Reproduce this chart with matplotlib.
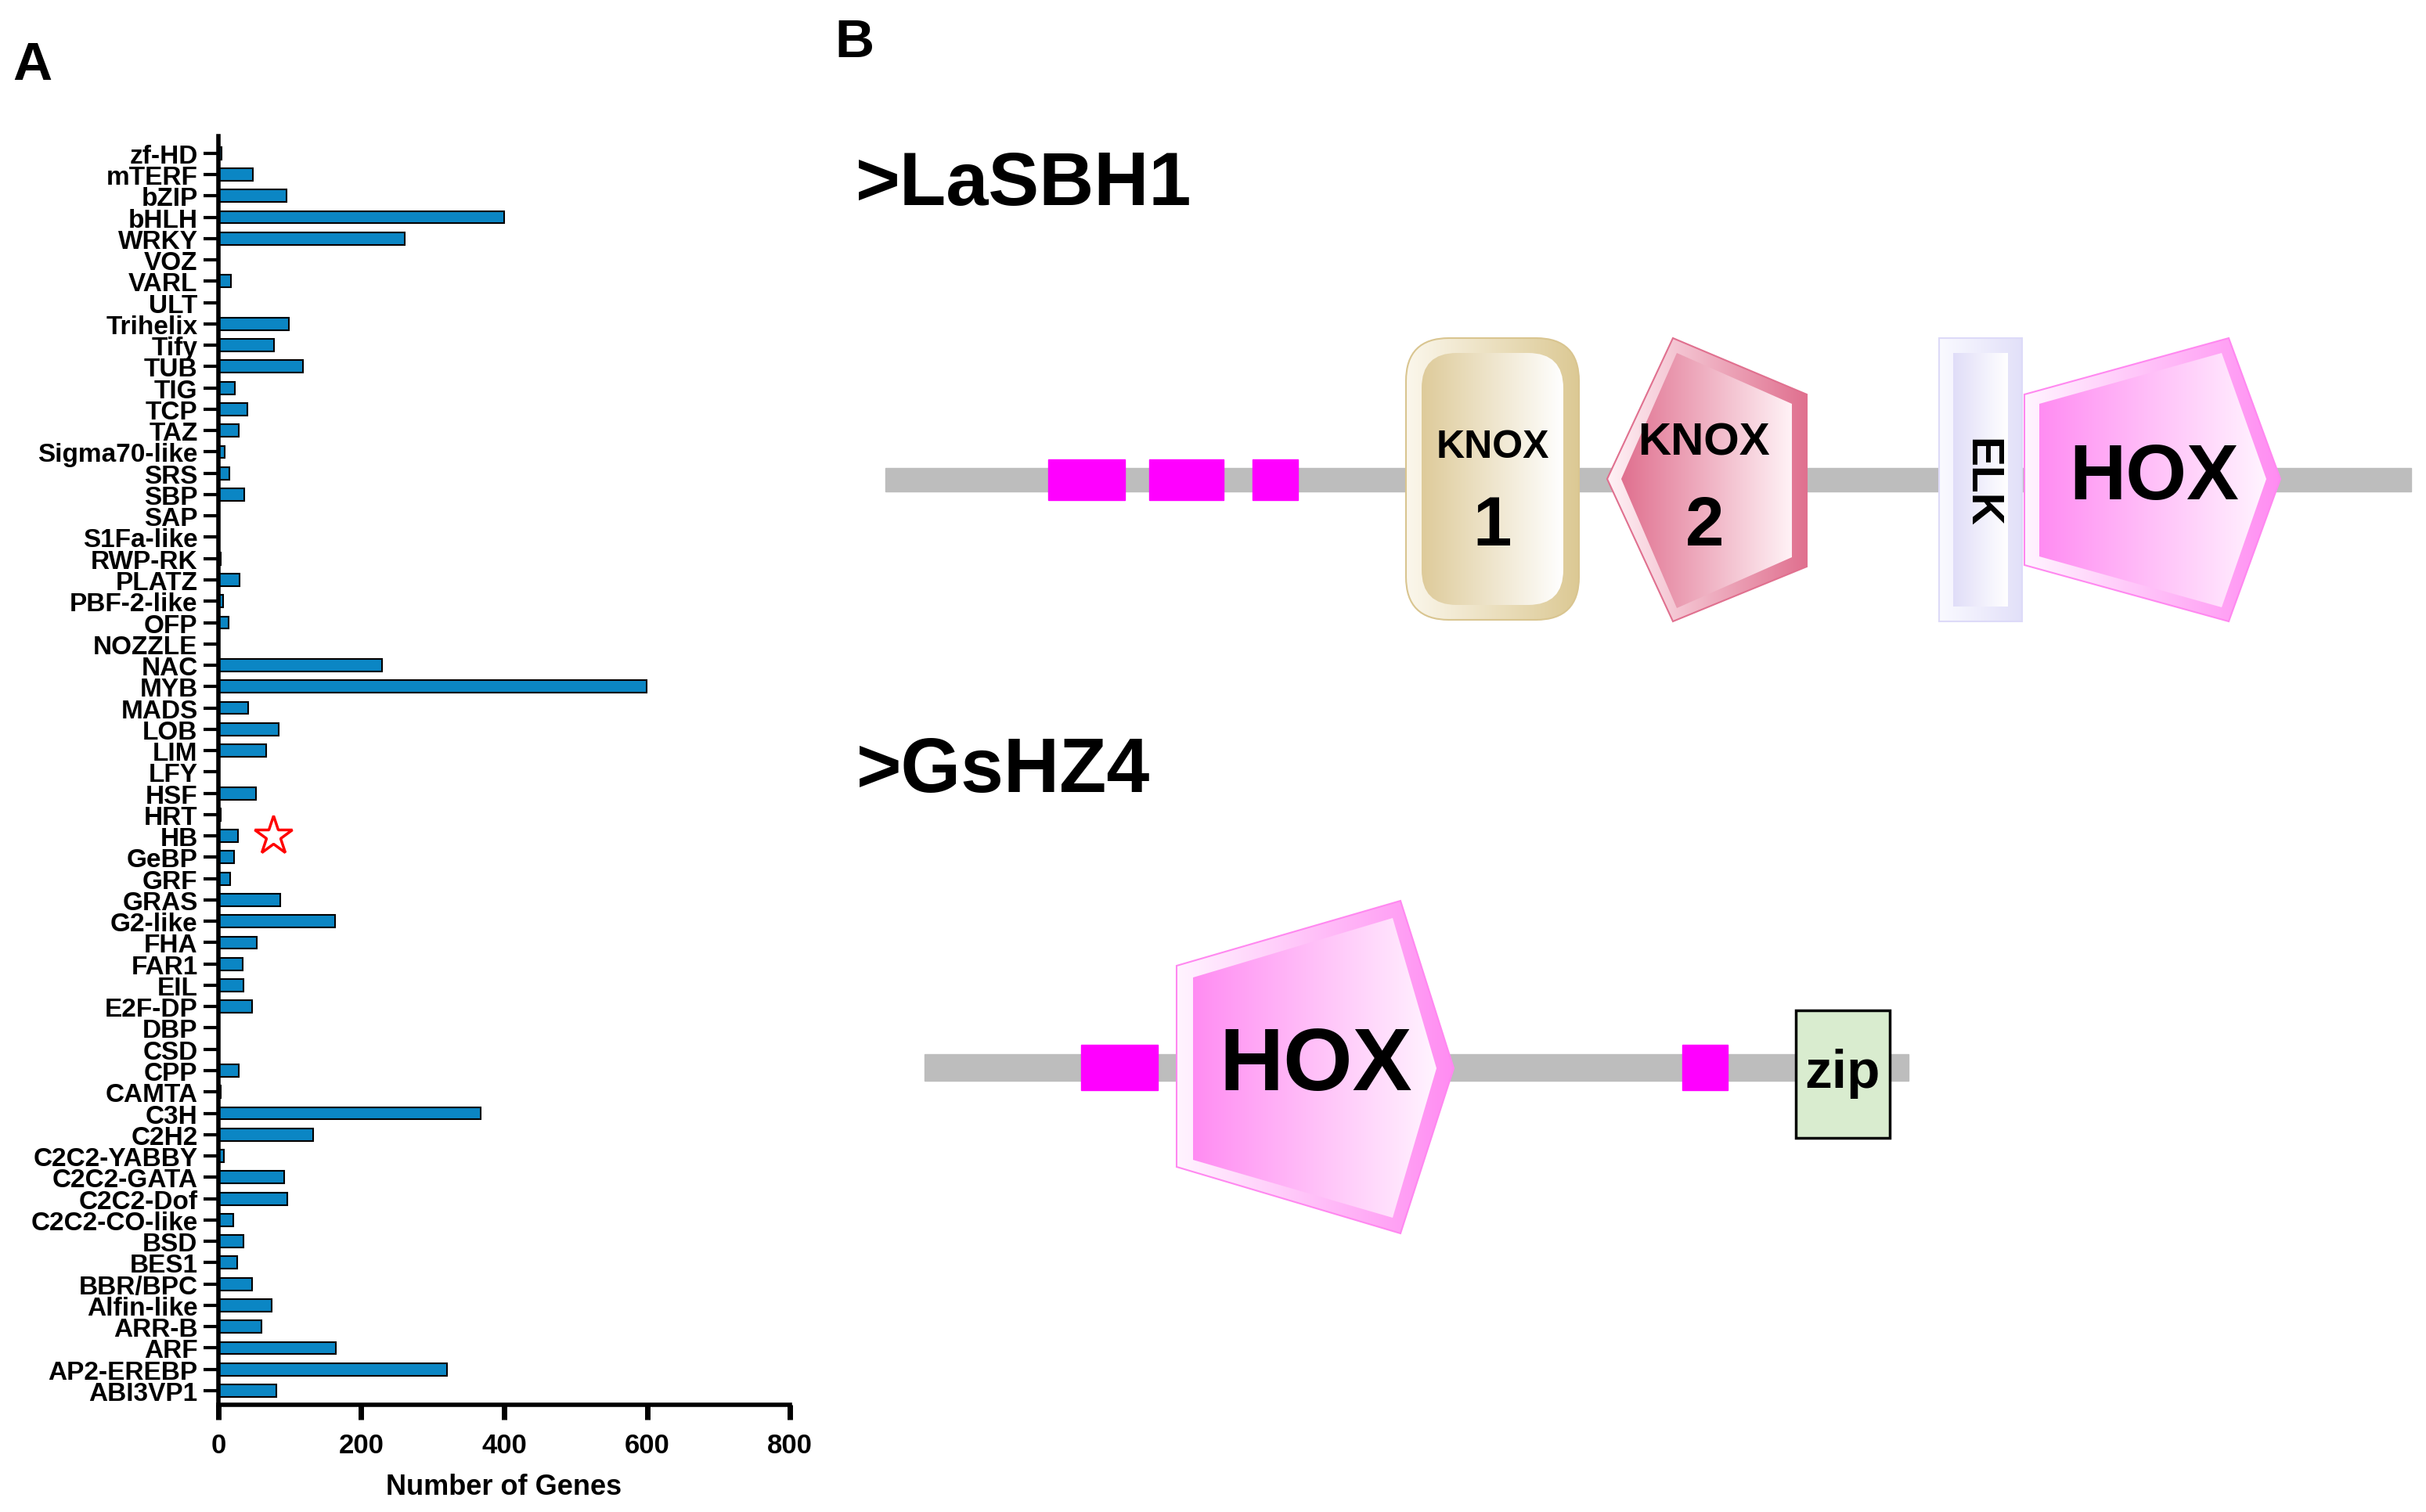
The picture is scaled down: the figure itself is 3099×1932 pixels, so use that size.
import numpy as np
import matplotlib
matplotlib.use("Agg")
import matplotlib.pyplot as plt
from matplotlib.patches import Polygon, FancyBboxPatch, Rectangle
from matplotlib.colors import LinearSegmentedColormap

plt.rcParams['font.family'] = ['Liberation Sans', 'DejaVu Sans']
plt.rcParams['font.weight'] = 'bold'

# ---- panel A data (top to bottom) ----
families = ['zf-HD', 'mTERF', 'bZIP', 'bHLH', 'WRKY', 'VOZ', 'VARL', 'ULT', 'Trihelix', 'Tify',
            'TUB', 'TIG', 'TCP', 'TAZ', 'Sigma70-like', 'SRS', 'SBP', 'SAP', 'S1Fa-like', 'RWP-RK',
            'PLATZ', 'PBF-2-like', 'OFP', 'NOZZLE', 'NAC', 'MYB', 'MADS', 'LOB', 'LIM', 'LFY',
            'HSF', 'HRT', 'HB', 'GeBP', 'GRF', 'GRAS', 'G2-like', 'FHA', 'FAR1', 'EIL',
            'E2F-DP', 'DBP', 'CSD', 'CPP', 'CAMTA', 'C3H', 'C2H2', 'C2C2-YABBY', 'C2C2-GATA', 'C2C2-Dof',
            'C2C2-CO-like', 'BSD', 'BES1', 'BBR/BPC', 'Alfin-like', 'ARR-B', 'ARF', 'AP2-EREBP', 'ABI3VP1']
gene_counts = [4, 48, 95, 400, 261, 1, 18, 0, 99, 78,
               118, 23, 41, 29, 9, 15, 36, 0, 0, 3,
               30, 7, 14, 0, 229, 599, 42, 85, 67, 0,
               53, 3, 27, 22, 17, 87, 163, 54, 34, 35,
               47, 0, 0, 29, 3, 367, 133, 8, 92, 97,
               21, 35, 26, 47, 75, 60, 165, 320, 81]
highlight = 'HB'
highlight_x = 77
x_ticks = [0, 200, 400, 600, 800]

# ---- panel B data (figure pixel coordinates of the schematic) ----
sbh1_title = '>LaSBH1'
sbh1_backbone = (1131, 3080, 614)          # x0, x1, y
sbh1_motifs = [(1339, 1437), (1468, 1563), (1600, 1658)]
sbh1_knox1 = (1796, 2017, 433, 793)
sbh1_knox2 = [(2053, 613), (2137, 433), (2308, 505), (2308, 725), (2137, 795)]
sbh1_knox2_in = [(2071, 613), (2142, 452), (2289, 517), (2289, 713), (2142, 778)]
sbh1_elk = (2477, 2583, 433, 795)
sbh1_hox = [(2586, 505), (2847, 433), (2913, 613), (2847, 795), (2586, 723)]
sbh1_hox_in = [(2605, 517), (2838, 452), (2895, 613), (2838, 777), (2605, 712)]

hz4_title = '>GsHZ4'
hz4_backbone = (1181, 2438, 1365)
hz4_motifs = [(1381, 1479), (2149, 2207)]
hz4_hox = [(1503, 1235), (1789, 1152), (1857, 1366), (1789, 1577), (1503, 1492)]
hz4_hox_in = [(1524, 1250), (1779, 1174), (1835, 1366), (1779, 1557), (1524, 1483)]
hz4_zip = (2294, 2414, 1292, 1455)

fig = plt.figure(figsize=(30.99, 19.33), dpi=100)

# ================= panel A =================
ax = fig.add_axes([0.0900, 0.0709, 0.2356, 0.8386])
ypos = np.arange(len(families))
ax.barh(ypos, gene_counts, height=0.58, color='#0B86C4', edgecolor='black', linewidth=1.5)
ax.set_yticks(ypos, families)
ax.set_ylim(58.66, -0.8)
ax.set_xlim(0, 800)
ax.set_xticks(x_ticks)
ax.spines[['top', 'right']].set_visible(False)
ax.spines[['left', 'bottom']].set_linewidth(4)
ax.tick_params(axis='y', length=14, width=3, pad=5, labelsize=24)
ax.tick_params(axis='x', length=14, width=5, pad=11, labelsize=25)
ax.set_xlabel('Number of Genes', fontsize=26, fontweight='bold', labelpad=14)
ax.plot(highlight_x, families.index(highlight), marker='*', ms=37, mfc='white',
        mec='red', mew=2.5, clip_on=False, zorder=5)

fig.text(16 / 3099, 1 - 102 / 1933, 'A', fontsize=50, fontweight='bold', ha='left', va='baseline')
fig.text(1066 / 3099, 1 - 73 / 1933, 'B', fontsize=50, fontweight='bold', ha='left', va='baseline')

# ================= panel B =================
bx = fig.add_axes([0, 0, 1, 1])
bx.patch.set_visible(False)
bx.axis('off')


def gradient_fill(patch, c_left, c_right, z):
    bx.add_patch(patch)
    ext = patch.get_path().transformed(patch.get_patch_transform()).get_extents()
    cmap = LinearSegmentedColormap.from_list('g', [c_left, c_right])
    im = bx.imshow(np.linspace(0, 1, 256).reshape(1, -1), cmap=cmap, aspect='auto',
                   extent=(ext.x0, ext.x1, ext.y1, ext.y0), zorder=z, interpolation='bilinear')
    im.set_clip_path(patch)


def backbone(spec, thick, motifs, mh):
    x0, x1, y = spec
    bx.add_patch(Rectangle((x0, y - thick / 2), x1 - x0, thick, color='#BDBDBD', zorder=1))
    for a, b in motifs:
        bx.add_patch(Rectangle((a, y - mh / 2), b - a, mh, color='#FF00FF', zorder=2))


def pentagon(outer, inner, c_dark, c_light, edge, z=3):
    gradient_fill(Polygon(outer, closed=True, facecolor='none', edgecolor=edge, lw=1.5, zorder=z + 0.5),
                  c_light, c_dark, z)
    gradient_fill(Polygon(inner, closed=True, facecolor='none', edgecolor='none', zorder=z + 1.5),
                  c_dark, c_light, z + 1)


# LaSBH1
bx.text(1093, 262, sbh1_title, fontsize=70, fontweight='bold', ha='left', va='baseline')
backbone(sbh1_backbone, 30, sbh1_motifs, 52)

x0, x1, y0, y1 = sbh1_knox1
gradient_fill(FancyBboxPatch((x0, y0), x1 - x0, y1 - y0, boxstyle='round,pad=0,rounding_size=55',
                             facecolor='none', edgecolor='#D9C590', lw=1.5, zorder=3.5),
              '#FBF7EC', '#DCC994', 3)
gradient_fill(FancyBboxPatch((x0 + 20, y0 + 19), x1 - x0 - 40, y1 - y0 - 38,
                             boxstyle='round,pad=0,rounding_size=45',
                             facecolor='none', edgecolor='none', zorder=4.5),
              '#DECB9A', '#FFFFFF', 4)
bx.text((x0 + x1) / 2, 572, 'KNOX', fontsize=36, fontweight='bold', ha='center', va='center', zorder=6)
bx.text((x0 + x1) / 2, 674, '1', fontsize=64, fontweight='bold', ha='center', va='center', zorder=6)

pentagon(sbh1_knox2, sbh1_knox2_in, '#E0708F', '#FFF2F6', '#E0708F')
bx.text(2176, 567, 'KNOX', fontsize=42, fontweight='bold', ha='center', va='center', zorder=6)
bx.text(2178, 674, '2', fontsize=64, fontweight='bold', ha='center', va='center', zorder=6)

x0, x1, y0, y1 = sbh1_elk
gradient_fill(Rectangle((x0, y0), x1 - x0, y1 - y0, facecolor='none', edgecolor='#DDDAF8', lw=1.5, zorder=3.5),
              '#FAFAFF', '#E2E0F9', 3)
gradient_fill(Rectangle((x0 + 18, y0 + 19), x1 - x0 - 36, y1 - y0 - 38, facecolor='none', edgecolor='none', zorder=4.5),
              '#E0DDF8', '#FFFFFF', 4)
bx.text((x0 + x1) / 2, 617, 'ELK', fontsize=41, fontweight='bold', ha='center', va='center',
        rotation=-90, zorder=6)

pentagon(sbh1_hox, sbh1_hox_in, '#FF8CF2', '#FFF4FF', '#FF88F0')
bx.text(2752, 612, 'HOX', fontsize=72, fontweight='bold', ha='center', va='center', zorder=6)

# GsHZ4
bx.text(1094, 1012, hz4_title, fontsize=71, fontweight='bold', ha='left', va='baseline')
backbone(hz4_backbone, 34, hz4_motifs, 58)
pentagon(hz4_hox, hz4_hox_in, '#FF8CF2', '#FFF4FF', '#FF88F0')
bx.text(1681, 1364, 'HOX', fontsize=82, fontweight='bold', ha='center', va='center', zorder=6)

x0, x1, y0, y1 = hz4_zip
bx.add_patch(Rectangle((x0, y0), x1 - x0, y1 - y0, facecolor='#D9ECCF', edgecolor='black', lw=2.5, zorder=3))
bx.text((x0 + x1) / 2, 1372, 'zip', fontsize=50, fontweight='bold', ha='center', va='center', zorder=6)

bx.set_xlim(0, 3099)
bx.set_ylim(1933, 0)

fig.savefig('out.png', dpi=100)
